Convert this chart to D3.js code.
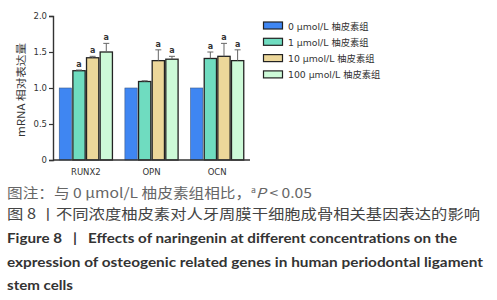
<!DOCTYPE html>
<html><head><meta charset="utf-8">
<script src="https://cdn.jsdelivr.net/npm/d3@7"></script>
<style>body{margin:0;background:#fff}svg{display:block}</style>
</head><body>
<script>
const categories = ["RUNX2", "OPN", "OCN"];
const seriesNames = ["0 μmol/L 柚皮素组", "1 μmol/L 柚皮素组", "10 μmol/L 柚皮素组", "100 μmol/L 柚皮素组"];
const values0 = [1.0, 1.0, 1.0];
const values1 = [1.24, 1.09, 1.41];
const values10 = [1.42, 1.38, 1.44];
const values100 = [1.50, 1.40, 1.38];
const err0 = [0, 0, 0];
const err1 = [0.01, 0.01, 0.09];
const err10 = [0.02, 0.15, 0.18];
const err100 = [0.12, 0.04, 0.15];
const sig0 = ["", "", ""];
const sig1 = ["a", "", "a"];
const sig10 = ["a", "a", "a"];
const sig100 = ["a", "a", "a"];
const yTicks = [0, 0.5, 1.0, 1.5, 2.0];
const yTickLabels = ["0", "0.5", "1.0", "1.5", "2.0"];
const colors = ["#3f86f2", "#6fdcc0", "#ecd79a", "#cdfad8"];

const vals = [values0, values1, values10, values100];
const errs = [err0, err1, err10, err100];
const sigs = [sig0, sig1, sig10, sig100];

const W = 497, H = 300;
const svg = d3.select("body").append("svg").attr("width", W).attr("height", H);

const y = d3.scaleLinear().domain([0, 2]).range([160, 16]);
const x0 = d3.scaleBand().domain(categories).range([53, 250]).paddingInner(0.19).paddingOuter(0.095);
const x1 = d3.scaleBand().domain(d3.range(4)).range([0, x0.bandwidth()]).paddingInner(0.1);

const data = [];
categories.forEach((c, ci) => {
  for (let s = 0; s < 4; s++) data.push({c, s, v: vals[s][ci], e: errs[s][ci], sig: sigs[s][ci]});
});

const g = svg.append("g");
g.selectAll("rect.bar").data(data).join("rect")
  .attr("x", d => x0(d.c) + x1(d.s))
  .attr("y", d => y(d.v))
  .attr("width", x1.bandwidth())
  .attr("height", d => y(0) - y(d.v))
  .attr("fill", d => colors[d.s])
  .attr("stroke", d => d.s === 0 ? "#3a5a8a" : "#222")
  .attr("stroke-width", d => d.s === 0 ? 0.6 : 1.3);

const cx = d => x0(d.c) + x1(d.s) + x1.bandwidth() / 2;
const eb = g.selectAll("g.eb").data(data.filter(d => d.e > 0)).join("g");
eb.append("line")
  .attr("x1", cx).attr("x2", cx)
  .attr("y1", d => y(d.v)).attr("y2", d => y(d.v + d.e))
  .attr("stroke", "#666").attr("stroke-width", 1);
eb.append("line")
  .attr("x1", d => cx(d) - 3).attr("x2", d => cx(d) + 3)
  .attr("y1", d => y(d.v + d.e)).attr("y2", d => y(d.v + d.e))
  .attr("stroke", "#666").attr("stroke-width", 1);

g.selectAll("text.sig").data(data.filter(d => d.sig)).join("text")
  .attr("x", cx)
  .attr("y", d => y(d.v + d.e) - 3)
  .attr("text-anchor", "middle")
  .attr("font-family", "DejaVu Sans, sans-serif")
  .attr("font-size", 8).attr("font-weight", "bold").attr("fill", "#333")
  .text(d => d.sig);

const yAxis = d3.axisLeft(y).tickValues(yTicks).tickFormat((d, i) => yTickLabels[i]).tickSize(4).tickPadding(2);
const ya = svg.append("g").attr("transform", "translate(53,0)").call(yAxis);
ya.select(".domain").attr("stroke", "#333").attr("stroke-width", 1.4);
ya.selectAll(".tick line").attr("stroke", "#333").attr("stroke-width", 1.2);
ya.selectAll(".tick text").attr("font-family", "DejaVu Sans, sans-serif").attr("font-size", 8.5).attr("fill", "#333");

const xAxis = d3.axisBottom(x0).tickSize(0).tickPadding(9);
const xa = svg.append("g").attr("transform", "translate(0,160)").call(xAxis);
xa.select(".domain").attr("stroke", "#333").attr("stroke-width", 1.4).attr("d", "M53,0H250");
xa.selectAll(".tick text").attr("font-family", "DejaVu Sans, sans-serif").attr("font-size", 8.5).attr("fill", "#333");

svg.append("text")
  .attr("transform", "translate(25,90) rotate(-90)")
  .attr("text-anchor", "middle")
  .attr("font-family", "Noto Sans CJK SC, DejaVu Sans, sans-serif")
  .attr("font-size", 10).attr("fill", "#333")
  .attr("textLength", 94).attr("lengthAdjust", "spacingAndGlyphs")
  .text("mRNA 相对表达量");

const lg = svg.append("g");
seriesNames.forEach((n, i) => {
  const yy = 22 + i * 16.3;
  lg.append("rect").attr("x", 263.5).attr("y", yy).attr("width", 19).attr("height", 7)
    .attr("fill", colors[i]).attr("stroke", "#222").attr("stroke-width", 1.2);
  lg.append("text").attr("x", 288).attr("y", yy + 7.5)
    .attr("font-family", "DejaVu Sans, Noto Sans CJK SC, sans-serif")
    .attr("font-size", 9.3).attr("fill", "#333").text(n);
});

// captions
const cap1 = svg.append("text").attr("x", 7).attr("y", 197.5)
  .attr("font-family", "Noto Sans CJK SC, sans-serif").attr("font-size", 13.5).attr("fill", "#666")
  .attr("textLength", 305).attr("lengthAdjust", "spacingAndGlyphs");
cap1.append("tspan").text("图注：与 0 μmol/L 柚皮素组相比，");
cap1.append("tspan").attr("font-size", 7.5).attr("dy", -5).text("a");
cap1.append("tspan").attr("font-style", "italic").attr("dy", 5).text("P");
cap1.append("tspan").text(" < 0.05");

svg.append("text").attr("x", 7).attr("y", 219)
  .attr("font-family", "Noto Sans CJK SC, sans-serif").attr("font-size", 14).attr("fill", "#444")
  .attr("textLength", 473).attr("lengthAdjust", "spacingAndGlyphs")
  .text("图 8 丨不同浓度柚皮素对人牙周膜干细胞成骨相关基因表达的影响");

const eng = [
  ["Figure 8   |   Effects of naringenin at different concentrations on the", 450],
  ["expression of osteogenic related genes in human periodontal ligament", 476],
  ["stem cells", 66]
];
eng.forEach((e, i) => {
  svg.append("text").attr("x", 7).attr("y", 243 + i * 23.5)
    .style("white-space", "pre")
    .attr("font-family", "Lato, sans-serif").attr("font-weight", "bold")
    .attr("font-size", 14).attr("fill", "#333")
    .attr("textLength", e[1]).attr("lengthAdjust", "spacingAndGlyphs")
    .text(e[0]);
});
</script>
</body></html>
